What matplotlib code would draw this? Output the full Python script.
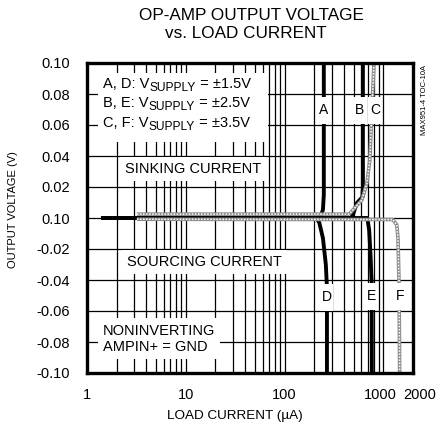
import numpy as np
import matplotlib.pyplot as plt
import matplotlib.transforms as mtransforms
from matplotlib.patches import Rectangle

plt.rcParams['font.family'] = ['Liberation Sans', 'DejaVu Sans']

# ---- data (x = load current in uA, y = output voltage in V)
y_ticks = [0.10, 0.08, 0.06, 0.04, 0.02, 0.0, -0.02, -0.04, -0.06, -0.08, -0.10]
y_tick_labels = ['0.10', '0.08', '0.06', '0.04', '0.02', '0.10',
                 '-0.02', '-0.04', '-0.06', '-0.08', '-0.10']
x_ticks = [1, 10, 100, 1000, 2000]
x_tick_labels = ['1', '10', '100', '1000', '2000']

# sinking curves (positive side)
a_x = [1.45, 218, 236, 245, 250, 250]
a_y = [0.0, 0.0, 0.002, 0.0055, 0.015, 0.10]
b_x = [1.45, 470, 492, 541, 615, 622, 622]
b_y = [0.0, 0.0, 0.002, 0.0097, 0.0135, 0.02, 0.10]
c_x = [3.2, 440, 459, 607, 683, 730, 805]
c_y = [0.0025, 0.0025, 0.003, 0.0116, 0.0226, 0.037, 0.10]

# sourcing curves (negative side)
d_x = [1.45, 210, 225, 245, 262, 269, 269]
d_y = [0.0, 0.0, -0.003, -0.013, -0.03, -0.045, -0.10]
e_x = [1.45, 690, 720, 743, 762, 766]
e_y = [0.0, 0.0, -0.008, -0.024, -0.041, -0.10]
f_x = [3.2, 1250, 1370, 1410, 1445, 1465]
f_y = [-0.0008, -0.001, -0.0045, -0.013, -0.043, -0.10]

# curve letter labels (x, y)
curve_labels = ['A', 'B', 'C', 'D', 'E', 'F']
label_x = [247, 578, 820, 266, 760, 1475]
label_y = [0.0695, 0.0695, 0.0695, -0.051, -0.0505, -0.0505]

# supply legend rows
legend_rows = ['A, D: ', 'B, E: ', 'C, F: ']
legend_supply = ['±1.5V', '±2.5V', '±3.5V']
legend_y = [0.0865, 0.074, 0.0613]

FS = 10.5


def dotted_line(ax, x, y):
    # grey/white checkered trace like the original print
    ax.plot(x, y, color='#8c8c8c', lw=2.6, solid_capstyle='butt', zorder=3)
    ax.plot(x, y, color='white', lw=1.1, dashes=(1, 1), zorder=3.1)


fig = plt.figure(figsize=(4.37, 4.32), dpi=100)
ax = fig.add_axes([87 / 437, 1 - 373 / 432, 326 / 437, 310 / 432])
ax.set_xscale('log')
ax.set_xlim(1, 2000)
ax.set_ylim(-0.10, 0.10)

# grid: every 0.02 V and every log minor decade step
for yv in y_ticks:
    ax.axhline(yv, color='black', lw=0.9, zorder=1)
grid_x = [m * 10 ** k for k in range(0, 4) for m in range(1, 10) if m * 10 ** k <= 2000]
for xv in grid_x:
    ax.axvline(xv, color='black', lw=0.9, zorder=1)

# traces
ax.plot(d_x, d_y, color='black', lw=2.8, zorder=2.5)
ax.plot(e_x, e_y, color='black', lw=2.8, zorder=2.5)
ax.plot(a_x, a_y, color='black', lw=2.8, zorder=2.5)
ax.plot(b_x, b_y, color='black', lw=2.8, zorder=2.5)
dotted_line(ax, f_x, f_y)
dotted_line(ax, c_x, c_y)

# curve letters on white patches that cut the traces
for lab, lx, ly in zip(curve_labels, label_x, label_y):
    trans = fig.dpi_scale_trans + mtransforms.ScaledTranslation(lx, ly, ax.transData)
    ax.add_patch(Rectangle((-0.065, -0.135), 0.13, 0.27, transform=trans,
                           fc='white', ec='none', zorder=4, clip_on=False))
    ax.text(lx, ly, lab, ha='center', va='center', fontsize=10, zorder=5)

# supply legend: white panel, then each row built from pieces so the
# "SUPPLY" subscript stays fairly large like the original
ax.add_patch(Rectangle((0.034, 0.745), 0.52, 0.223, transform=ax.transAxes,
                       fc='white', ec='none', zorder=4))
for row, sup, ry in zip(legend_rows, legend_supply, legend_y):
    t1 = ax.text(1.45, ry, row + 'V', ha='left', va='center', fontsize=FS, zorder=5)
    t2 = ax.annotate('SUPPLY', xy=(1, 0), xycoords=t1, ha='left', va='baseline',
                     fontsize=FS * 0.82, zorder=5)
    ax.annotate(' = ' + sup, xy=(1, 0), xycoords=(t2, t1), ha='left', va='bottom',
                fontsize=FS, zorder=5)

box2 = dict(boxstyle='square,pad=0.35', fc='white', ec='none')
ax.text(2.43, 0.0315, 'SINKING CURRENT', ha='left', va='center', fontsize=FS,
        bbox=box2, zorder=5)
ax.text(2.54, -0.0284, 'SOURCING CURRENT', ha='left', va='center', fontsize=FS,
        bbox=box2, zorder=5)
ax.text(1.45, -0.078, 'NONINVERTING\nAMPIN+ = GND', ha='left', va='center',
        fontsize=FS, linespacing=1.25, bbox=box2, zorder=5)

ax.set_yticks(y_ticks)
ax.set_yticklabels(y_tick_labels)
ax.set_xticks(x_ticks)
ax.set_xticklabels(x_tick_labels)
ax.minorticks_off()
ax.tick_params(axis='both', length=0, labelsize=FS)
ax.tick_params(axis='y', pad=12)
ax.tick_params(axis='x', pad=11)
shift = {'1000': -2 / 72, '2000': 5 / 72}
for lbl in ax.get_xticklabels():
    if lbl.get_text() in shift:
        lbl.set_transform(lbl.get_transform() +
                          mtransforms.ScaledTranslation(shift[lbl.get_text()], 0,
                                                        fig.dpi_scale_trans))

for sp in ax.spines.values():
    sp.set_linewidth(2.4)
    sp.set_zorder(6)

# original uses a condensed face; smaller size keeps the same length
ax.set_ylabel('OUTPUT VOLTAGE (V)', fontsize=8)
ax.yaxis.set_label_coords(-0.212, 0.526)
ax.set_xlabel('LOAD CURRENT (µA)', fontsize=9.7)
ax.xaxis.set_label_coords(0.454, -0.119)

fig.text(251 / 437, 1 - 16 / 432, 'OP-AMP OUTPUT VOLTAGE', ha='center', va='center',
         fontsize=12.3)
fig.text(246 / 437, 1 - 33 / 432, 'vs. LOAD CURRENT', ha='center', va='center',
         fontsize=12.3)
fig.text(425 / 437, 1 - 100 / 432, 'MAX951-4 TOC-10A', rotation=90, ha='center',
         va='center', fontsize=5.5)

fig.savefig('out.png', dpi=100)
